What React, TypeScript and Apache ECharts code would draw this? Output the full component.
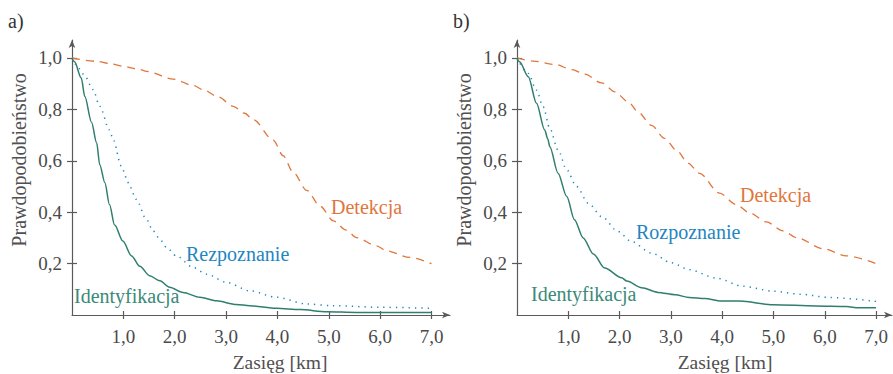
import React, { useEffect, useRef } from "react";
import * as echarts from "echarts";

const xTicks = [1, 2, 3, 4, 5, 6, 7];
const yTicks = [0.2, 0.4, 0.6, 0.8, 1.0];

const seriesNames = ["Detekcja", "Rozpoznanie", "Identyfikacja"];
const labelsA = ["Detekcja", "Rezpoznanie", "Identyfikacja"];
const labelsB = ["Detekcja", "Rozpoznanie", "Identyfikacja"];

const aDetekcja = [
  [0, 1.0], [0.47, 0.987], [0.74, 0.978], [0.99, 0.968], [1.32, 0.955], [1.45, 0.948], [1.97, 0.918],
  [2.36, 0.893], [2.55, 0.877], [2.85, 0.848], [3.14, 0.812], [3.36, 0.785], [3.53, 0.76],
  [3.92, 0.68], [4.11, 0.62], [4.31, 0.554], [4.57, 0.485], [4.83, 0.424], [5.09, 0.366],
  [5.34, 0.33], [5.54, 0.301], [5.93, 0.269], [6.12, 0.25], [6.58, 0.224], [7.0, 0.2],
];
const aRozpoznanie = [
  [0, 1.0], [0.15, 0.958], [0.25, 0.929], [0.41, 0.877], [0.54, 0.812], [0.73, 0.72], [0.8, 0.683],
  [0.96, 0.58], [1.06, 0.534], [1.12, 0.502], [1.25, 0.45], [1.45, 0.372], [1.58, 0.327],
  [1.71, 0.295], [1.84, 0.263], [2.03, 0.23], [2.36, 0.185], [2.62, 0.159], [3.01, 0.127],
  [3.46, 0.094], [3.98, 0.069], [4.57, 0.043], [5.09, 0.036], [6.0, 0.03], [7.0, 0.026],
];
const aIdentyfikacja = [
  [0, 1.0], [0.05, 0.985], [0.18, 0.922], [0.25, 0.85], [0.38, 0.75], [0.48, 0.67], [0.54, 0.585],
  [0.64, 0.515], [0.73, 0.43], [0.83, 0.35], [0.99, 0.288], [1.16, 0.23], [1.32, 0.19],
  [1.51, 0.153], [1.71, 0.133], [1.9, 0.108], [2.16, 0.088], [2.49, 0.069], [2.81, 0.055],
  [3.2, 0.041], [3.46, 0.036], [3.98, 0.026], [4.44, 0.021], [4.96, 0.013], [5.54, 0.01], [7.0, 0.01],
];

const bDetekcja = [
  [0, 1.0], [0.32, 0.988], [0.74, 0.975], [1.07, 0.955], [1.32, 0.937], [1.65, 0.903], [1.91, 0.868],
  [2.17, 0.829], [2.36, 0.79], [2.62, 0.738], [2.88, 0.687], [3.11, 0.641], [3.34, 0.59],
  [3.56, 0.551], [3.95, 0.474], [4.27, 0.43], [4.53, 0.398], [4.86, 0.362], [5.19, 0.327],
  [5.45, 0.301], [5.97, 0.258], [6.42, 0.23], [7.0, 0.2],
];
const bRozpoznanie = [
  [0, 1.0], [0.22, 0.94], [0.38, 0.875], [0.51, 0.81], [0.64, 0.726], [0.8, 0.642], [0.97, 0.565],
  [1.16, 0.5], [1.39, 0.435], [1.65, 0.383], [1.97, 0.325], [2.23, 0.286], [2.62, 0.241],
  [3.01, 0.203], [3.36, 0.176], [3.88, 0.144], [4.4, 0.112], [4.99, 0.093], [5.51, 0.081],
  [6.1, 0.068], [7.0, 0.053],
];
const bIdentyfikacja = [
  [0, 1.0], [0.05, 0.985], [0.22, 0.927], [0.38, 0.824], [0.54, 0.72], [0.6, 0.685], [0.64, 0.655],
  [0.8, 0.552], [0.97, 0.461], [1.12, 0.371], [1.29, 0.3], [1.49, 0.237], [1.71, 0.183],
  [2.04, 0.145], [2.14, 0.132], [2.43, 0.106], [2.75, 0.088], [3.08, 0.079], [3.36, 0.068],
  [3.66, 0.064], [3.98, 0.054], [4.34, 0.054], [4.99, 0.04], [5.83, 0.035], [6.42, 0.033],
  [6.66, 0.028], [7.0, 0.028],
];

const FONT = "Liberation Serif";
const AXIS = "#5a5a5a";
const TEXT = "#4a4a4a";
const ORANGE = "#E0763C";
const BLUE = "#1E86C0";
const GREEN = "#2F7E6E";
const GREEN_TXT = "#3A8A78";

const fmt = (v: number) => v.toFixed(1).replace(".", ",");

function mainX(grid: number, max: number) {
  return {
    type: "value", gridIndex: grid, min: 0, max,
    axisLine: { show: true, onZero: false, symbol: ["none", "arrow"], symbolSize: [5, 8], lineStyle: { color: AXIS, width: 1.2 } },
    axisTick: { show: true, inside: false, length: 4, customValues: xTicks, lineStyle: { color: AXIS, width: 1.2 } },
    axisLabel: { show: true, customValues: xTicks, margin: 12, formatter: fmt, color: TEXT, fontFamily: FONT, fontSize: 19 },
    splitLine: { show: false },
  };
}
function innerX(grid: number, max: number) {
  return {
    type: "value", gridIndex: grid, min: 0, max, position: "bottom",
    axisLine: { show: false },
    axisTick: { show: true, inside: true, length: 4, customValues: xTicks, lineStyle: { color: AXIS, width: 1.2 } },
    axisLabel: { show: false },
    splitLine: { show: false },
  };
}
function mainY(grid: number) {
  return {
    type: "value", gridIndex: grid, min: 0, max: 1.07, position: "left",
    axisLine: { show: true, onZero: false, symbol: ["none", "arrow"], symbolSize: [5, 8], lineStyle: { color: AXIS, width: 1.2 } },
    axisTick: { show: true, inside: false, length: 5, customValues: yTicks, lineStyle: { color: AXIS, width: 1.2 } },
    axisLabel: { show: true, customValues: yTicks, margin: 10, formatter: fmt, color: TEXT, fontFamily: FONT, fontSize: 19 },
    splitLine: { show: false },
  };
}
function innerY(grid: number) {
  return {
    type: "value", gridIndex: grid, min: 0, max: 1.07, position: "left",
    axisLine: { show: false },
    axisTick: { show: true, inside: true, length: 5, customValues: yTicks, lineStyle: { color: AXIS, width: 1.2 } },
    axisLabel: { show: false },
    splitLine: { show: false },
  };
}

function lineSeries(name: string, data: number[][], axis: number, kind: string) {
  const style: any =
    kind === "dash"
      ? { color: ORANGE, width: 1.3, type: [8, 6] }
      : kind === "dot"
      ? { color: BLUE, width: 1.5, type: [1.3, 5] }
      : { color: GREEN, width: 1.5, type: "solid" };
  return {
    type: "line", name, data, xAxisIndex: axis, yAxisIndex: axis,
    showSymbol: false, symbol: "none", smooth: 0.3, smoothMonotone: "x",
    lineStyle: style, itemStyle: { color: style.color }, z: 3,
  };
}

function txt(text: string, x: number, y: number, fill: string, size: number, align = "left", rotation = 0) {
  return {
    type: "text", x, y, rotation, silent: true,
    style: { text, fill, fontFamily: FONT, fontSize: size, align, verticalAlign: "middle" },
  };
}

export default function App() {
  const ref = useRef<HTMLDivElement>(null);
  useEffect(() => {
    if (!ref.current) return;
    const chart = echarts.init(ref.current, null, { renderer: "svg" });
    const option: any = {
      animation: false,
      backgroundColor: "#ffffff",
      textStyle: { fontFamily: FONT },
      grid: [
        { left: 72, top: 40, width: 378, height: 275 },
        { left: 517, top: 40, width: 375, height: 275 },
      ],
      xAxis: [mainX(0, 7.36), innerX(0, 7.36), mainX(1, 7.31), innerX(1, 7.31)],
      yAxis: [mainY(0), innerY(0), mainY(1), innerY(1)],
      series: [
        lineSeries(seriesNames[0], aDetekcja, 0, "dash"),
        lineSeries(seriesNames[1], aRozpoznanie, 0, "dot"),
        lineSeries(seriesNames[2], aIdentyfikacja, 0, "solid"),
        lineSeries(seriesNames[0], bDetekcja, 2, "dash"),
        lineSeries(seriesNames[1], bRozpoznanie, 2, "dot"),
        lineSeries(seriesNames[2], bIdentyfikacja, 2, "solid"),
      ],
      graphic: [
        txt("a)", 8, 21, "#333333", 20),
        txt("b)", 453, 21, "#333333", 20),
        txt("Prawdopodobieństwo", 19, 160, "#505050", 20, "center", Math.PI / 2),
        txt("Prawdopodobieństwo", 464, 160, "#505050", 20, "center", Math.PI / 2),
        txt("Zasięg [km]", 280, 362, "#505050", 19.5, "center"),
        txt("Zasięg [km]", 725, 362, "#505050", 19.5, "center"),
        txt(labelsA[0], 331, 207, ORANGE, 20),
        txt(labelsA[1], 186, 254, BLUE, 20),
        txt(labelsA[2], 74, 296, GREEN_TXT, 20),
        txt(labelsB[0], 740, 195, ORANGE, 20),
        txt(labelsB[1], 636, 232, BLUE, 20),
        txt(labelsB[2], 531, 294, GREEN_TXT, 20),
      ],
    };
    chart.setOption(option);
    return () => chart.dispose();
  }, []);
  return (
    <div
      ref={ref}
      style={{ position: "fixed", left: 0, top: 0, width: "893px", height: "374px" }}
    />
  );
}
